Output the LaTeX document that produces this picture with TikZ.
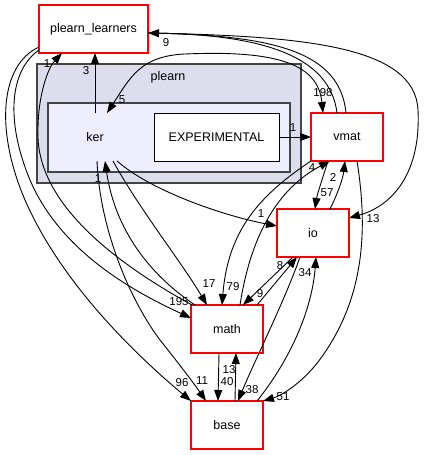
\documentclass[tikz,border=0pt]{standalone}
\usepackage{fontspec}
\setmainfont{Liberation Sans}
\usetikzlibrary{arrows.meta,calc}
\definecolor{clusterA}{HTML}{DDDDEE}
\definecolor{clusterB}{HTML}{EEEEFF}
\definecolor{cborder}{HTML}{444444}
\definecolor{boxred}{RGB}{255,0,0}
\begin{document}
\begin{tikzpicture}[x=1pt,y=-1pt,
  txt/.style={font=\fontsize{12.5}{14}\selectfont},
  dirbox/.style={txt, draw=boxred, fill=white, line width=1.1pt, minimum width=72pt,
    minimum height=48pt, inner sep=0pt, outer sep=0pt},
  plainbox/.style={txt, draw=black, fill=white, line width=0.9pt, minimum height=48pt,
    inner sep=0pt, outer sep=0pt},
  ghost/.style={txt, minimum width=72pt, minimum height=48pt, inner sep=0pt, outer sep=0pt},
  cluster/.style={draw=cborder, line width=1.3pt},
  link/.style={line width=0.9pt},
  dep/.style={link, -{Triangle[length=11pt,width=8pt]}},
  depboth/.style={link, {Triangle[length=11pt,width=8pt]}-{Triangle[length=11pt,width=8pt]}},
  num/.style={font=\fontsize{11.5}{13}\selectfont, inner sep=0pt}]
\useasboundingbox (0,0) rectangle (424,455);
% clusters
\draw[cluster, fill=clusterA] (37,64) rectangle (301,183);
\node[txt] (plearnlbl) at (168,77) {plearn};
\draw[cluster, fill=clusterB] (48,103) rectangle (290,172);
% nodes
\node[ghost] (ker) at (95,137) {ker};
\node[plainbox, minimum width=125pt] (exp) at (216.5,137) {EXPERIMENTAL};
\node[dirbox, minimum width=109pt] (pl) at (93.5,29) {plearn\_learners};
\node[dirbox] (vmat) at (347,137) {vmat};
\node[dirbox] (io) at (313,233) {io};
\node[dirbox] (math) at (227,329) {math};
\node[dirbox] (base) at (227,425) {base};
% edges
\draw[dep] (ker.north) -- (ker.north |- pl.south);
\draw[dep] (exp.east) -- (vmat.west);
\draw[depboth] ($(ker.north)+(12,0)$) .. controls (130,78) and (140,56) .. (185,54)
  .. controls (280,50) and (318,65) .. ($(vmat.north west)+(12,0)$);
\draw[dep] ($(vmat.north west)+(26,0)$) .. controls (330,55) and (260,35) .. ($(pl.east)+(0,4)$);
\draw[link] ($(pl.east)+(0,4)$) .. controls (270,35) and (340,50) .. ($(vmat.north west)+(35,0)$);
\draw[dep] ($(pl.east)+(0,4)$) .. controls (300,36) and (415,45) .. (418,110)
  .. controls (421,170) and (395,205) .. ($(io.north east)+(0,9)$);
\draw[dep] ($(vmat.south west)+(46,0)$) .. controls (368,230) and (365,300) .. (318,362)
  .. controls (300,385) and (280,396) .. (base.north east);
\draw[dep] (vmat.south west) .. controls (260,195) and (228,230) .. ($(math.north west)+(31,0)$);
\draw[dep] ($(math.north west)+(49,0)$) .. controls (250,240) and (275,190) .. ($(vmat.south west)+(19,0)$);
\draw[dep] ($(vmat.south west)+(17,0)$) .. controls (322,180) and (317,195) .. ($(io.north west)+(38,0)$);
\draw[dep] ($(io.north west)+(53,0)$) .. controls (338,193) and (343,178) .. ($(vmat.south west)+(34,0)$);
\draw[dep] ($(ker.south)+(22,0)$) .. controls (150,190) and (220,215) .. ($(io.west)+(0,-7)$);
\draw[dep] ($(ker.south)+(18,0)$) .. controls (140,210) and (180,260) .. ($(math.north west)+(16,0)$);
\draw[dep] ($(ker.south)+(2,0)$) .. controls (100,230) and (130,300) .. (160,340)
  .. controls (180,365) and (195,385) .. ($(base.north west)+(15,0)$);
\draw[dep] ($(math.north west)+(4,0)$) .. controls (150,275) and (115,230) .. ($(ker.south)+(10,0)$);
\draw[dep] ($(math.north west)+(1,0)$) .. controls (110,260) and (35,200) .. (38,130)
  .. controls (38,95) and (48,68) .. ($(pl.south west)+(23,0)$);
\draw[dep] ($(pl.west)+(0,21)$) .. controls (10,70) and (5,120) .. (30,180)
  .. controls (60,250) and (130,290) .. ($(math.west)+(0,-11)$);
\draw[dep] ($(pl.west)+(0,18)$) .. controls (0,65) and (-5,130) .. (25,200)
  .. controls (60,280) and (130,350) .. (base.north west);
\draw[dep] ($(math.north west)+(66,0)$) -- ($(io.south west)+(20,0)$);
\draw[dep] ($(io.south west)+(16,0)$) -- ($(math.north west)+(52,0)$);
\draw[dep] ($(io.south west)+(23,0)$) .. controls (285,300) and (255,360) .. ($(base.north west)+(47,0)$);
\draw[dep] ($(base.north west)+(66,0)$) .. controls (290,360) and (312,310) .. ($(io.south west)+(39,0)$);
\draw[dep] ($(math.south west)+(28,0)$) -- ($(base.north west)+(27,0)$);
\draw[dep] ($(base.north west)+(44,0)$) -- ($(math.south west)+(45,0)$);
% labels
\node[num] (l3) at (86,71) {3};
\node[num] (l1a) at (293,128) {1};
\node[num] (l5) at (122,100) {5};
\node[num] (l198) at (323,93) {198};
\node[num] (l9a) at (166,43) {9};
\node[num] (l13a) at (373,219) {13};
\node[num] (l1b) at (47,64) {1};
\node[num] (l195) at (179,302) {195};
\node[num] (l96) at (182,383) {96};
\node[num] (l11) at (202,381) {11};
\node[num] (l1c) at (98,179) {1};
\node[num] (l17) at (209,284) {17};
\node[num] (l1d) at (261,214) {1};
\node[num] (l79) at (233,287) {79};
\node[num] (l4) at (312,168) {4};
\node[num] (l2) at (333,177) {2};
\node[num] (l57) at (327,193) {57};
\node[num] (l51) at (283,397) {51};
\node[num] (l9b) at (260,294) {9};
\node[num] (l8) at (280,266) {8};
\node[num] (l34) at (305,273) {34};
\node[num] (l38) at (252,390) {38};
\node[num] (l40) at (227,382) {40};
\node[num] (l13b) at (229,370) {13};
\end{tikzpicture}
\end{document}
